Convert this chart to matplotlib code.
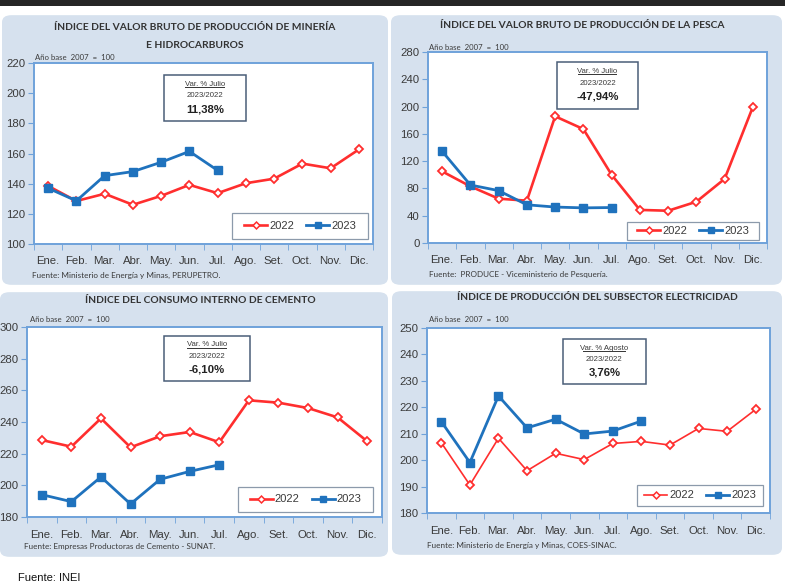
"""Cuatro indicadores sectoriales 2022-2023 (INEI)."""

import matplotlib
matplotlib.use("Agg")
import matplotlib.pyplot as plt
from matplotlib.patches import FancyBboxPatch, Rectangle
from matplotlib.lines import Line2D
from matplotlib.ticker import MultipleLocator, FixedLocator

W, H = 785, 584

meses = ["Ene.", "Feb.", "Mar.", "Abr.", "May.", "Jun.", "Jul.",
         "Ago.", "Set.", "Oct.", "Nov.", "Dic."]

# Minería e hidrocarburos
mineria_2022 = [138.5, 128.5, 133.3, 126.0, 131.9, 139.2, 133.7, 140.3, 143.3, 153.3, 150.2, 162.7]
mineria_2023 = [137.0, 128.6, 145.3, 148.0, 154.2, 161.4, 148.8]

# Pesca
pesca_2022 = [105.0, 83.0, 65.0, 62.0, 185.7, 167.0, 100.0, 48.5, 47.3, 60.5, 94.0, 199.5]
pesca_2023 = [134.5, 85.0, 76.8, 56.0, 52.7, 51.5, 52.0]

# Cemento
cemento_2022 = [228.6, 224.4, 242.3, 224.0, 231.0, 233.7, 227.2, 253.7, 252.2, 248.8, 242.9, 227.8]
cemento_2023 = [194.1, 189.7, 205.3, 188.2, 203.8, 208.8, 213.0]

# Electricidad
electricidad_2022 = [206.6, 190.6, 208.3, 196.0, 202.6, 200.2, 206.3, 207.1, 205.7, 212.0, 210.9, 219.2]
electricidad_2023 = [214.6, 199.1, 224.3, 212.2, 215.5, 209.9, 211.0, 214.8]

RED = "#FF2E2E"
BLUE = "#1F72BD"
PANEL_BG = "#D6E1EE"
FRAME = "#6FA2DA"
TXT = "#3A3A3A"

TITLE_FONT = ["Lato", "DejaVu Sans"]
TICK_FONT = ["Liberation Sans Narrow", "Liberation Sans"]


def fx(x):
    return x / W


def fy(y):
    return 1 - y / H


def rect(x0, y0, x1, y1):
    return [fx(x0), fy(y1), (x1 - x0) / W, (y1 - y0) / H]


fig = plt.figure(figsize=(W / 100, H / 100), dpi=100)
fig.patch.set_facecolor("white")

# barra superior oscura
fig.patches.append(Rectangle((0, fy(6)), 1, 6 / H, transform=fig.transFigure,
                             facecolor="#262626", edgecolor="none", zorder=-1))


def panel(bg, plot, titles, title_x, title_ys, base_xy, ylim, ystep,
          y22, y23, var_box, var_label, var_value, legend_box, source,
          source_xy, lw22=1.9):
    x0, y0, x1, y1 = bg
    fig.patches.append(FancyBboxPatch(
        (fx(x0) + 0.006, fy(y1) + 0.008), (x1 - x0) / W - 0.012, (y1 - y0) / H - 0.016,
        boxstyle="round,pad=0.006,rounding_size=0.012", transform=fig.transFigure,
        facecolor=PANEL_BG, edgecolor="none", zorder=-1))

    for t, ty in zip(titles, title_ys):
        fig.text(fx(title_x), fy(ty), t, ha="center", va="center", fontsize=7.4,
                 fontweight="bold", color="#333333", family=TITLE_FONT)
    fig.text(fx(base_xy[0]), fy(base_xy[1]), "Año base  2007  =  100", ha="left",
             va="center", fontsize=5.6, color=TXT, family=TITLE_FONT)

    ax = fig.add_axes(rect(*plot))
    ax.set_facecolor("white")
    x = list(range(12))
    ax.plot(x[:len(y22)], y22, color=RED, lw=lw22, marker="D", ms=4.2,
            mfc="white", mec=RED, mew=1.3, label="2022", zorder=3)
    ax.plot(x[:len(y23)], y23, color=BLUE, lw=2.0, marker="s", ms=5.5,
            mfc=BLUE, mec=BLUE, label="2023", zorder=4)
    ax.set_xlim(-0.5, 11.5)
    ax.set_ylim(*ylim)
    ax.yaxis.set_major_locator(MultipleLocator(ystep))
    ax.xaxis.set_major_locator(FixedLocator(x))
    ax.xaxis.set_minor_locator(FixedLocator([i - 0.5 for i in range(13)]))
    ax.set_xticklabels(meses)
    ax.tick_params(axis="x", which="major", length=0, pad=9, labelsize=8.2,
                   labelcolor=TXT)
    ax.tick_params(axis="x", which="minor", length=4, direction="out", color=FRAME)
    ax.tick_params(axis="y", length=4, direction="out", color=FRAME, labelsize=8.2,
                   labelcolor=TXT, pad=2)
    for lab in ax.get_xticklabels() + ax.get_yticklabels():
        lab.set_family(TICK_FONT)
    for s in ax.spines.values():
        s.set_color(FRAME)
        s.set_linewidth(1.4)

    # recuadro de variación
    bx0, by0, bx1, by1 = var_box
    fig.patches.append(Rectangle((fx(bx0), fy(by1)), (bx1 - bx0) / W, (by1 - by0) / H,
                                 transform=fig.transFigure, facecolor="white",
                                 edgecolor="#4A5E78", lw=1.1, zorder=5))
    cx = (bx0 + bx1) / 2
    h = by1 - by0
    fig.text(fx(cx), fy(by0 + h * 0.2), var_label, ha="center", va="center",
             fontsize=5.6, color=TXT, family=TICK_FONT, zorder=6)
    ul = len(var_label) * 3.3
    fig.patches.append(Rectangle((fx(cx - ul / 2), fy(by0 + h * 0.2 + 3.6)),
                                 ul / W, 0.6 / H,
                                 transform=fig.transFigure, facecolor=TXT,
                                 edgecolor="none", zorder=6))
    fig.text(fx(cx), fy(by0 + h * 0.45), "2023/2022", ha="center", va="center",
             fontsize=5.6, color=TXT, family=TICK_FONT, zorder=6)
    fig.text(fx(cx), fy(by0 + h * 0.74), var_value, ha="center", va="center",
             fontsize=8.2, fontweight="bold", color="#222222", family=TICK_FONT,
             zorder=6)

    # leyenda
    lx0, ly0, lx1, ly1 = legend_box
    fig.patches.append(Rectangle((fx(lx0), fy(ly1)), (lx1 - lx0) / W, (ly1 - ly0) / H,
                                 transform=fig.transFigure, facecolor="white",
                                 edgecolor="#8C9AAB", lw=0.9, zorder=5))
    handles = [
        Line2D([], [], color=RED, lw=lw22, marker="D", ms=3.5, mfc="white", mec=RED, mew=1.1),
        Line2D([], [], color=BLUE, lw=2.0, marker="s", ms=5, mfc=BLUE, mec=BLUE),
    ]
    leg = fig.legend(handles, ["2022", "2023"], loc="center", ncol=2, frameon=False,
                     bbox_to_anchor=(fx((lx0 + lx1) / 2), fy((ly0 + ly1) / 2)),
                     handlelength=2.1, handletextpad=0.15, columnspacing=1.1,
                     borderpad=0.2, prop={"family": TICK_FONT, "size": 8.0})
    leg.set_zorder(7)
    for t in leg.get_texts():
        t.set_color(TXT)

    fig.text(fx(source_xy[0]), fy(source_xy[1]), source, ha="left", va="center",
             fontsize=5.9, color=TXT, family=TITLE_FONT)


panel(bg=(2, 14, 388, 286), plot=(34, 63, 373, 244),
      titles=["ÍNDICE DEL VALOR BRUTO DE PRODUCCIÓN DE MINERÍA", "E HIDROCARBUROS"],
      title_x=195, title_ys=[28, 46], base_xy=(35, 57), ylim=(100, 220), ystep=20,
      y22=mineria_2022, y23=mineria_2023, var_box=(164, 75, 246, 121),
      var_label="Var. % Julio", var_value="11,38%", legend_box=(232, 213, 368, 239),
      source="Fuente: Ministerio de Energía y Minas, PERUPETRO.", source_xy=(32, 275))

panel(bg=(391, 14, 782, 286), plot=(428, 52, 767, 243),
      titles=["ÍNDICE DEL VALOR BRUTO DE PRODUCCIÓN DE LA PESCA"],
      title_x=582, title_ys=[26], base_xy=(429, 47), ylim=(0, 280), ystep=40,
      y22=pesca_2022, y23=pesca_2023, var_box=(557, 62, 638, 109),
      var_label="Var. % Julio", var_value="-47,94%", legend_box=(627, 222, 759, 240),
      source="Fuente:  PRODUCE - Viceministerio de Pesquería.", source_xy=(429, 274))

panel(bg=(0, 291, 388, 558), plot=(27, 327, 382, 517),
      titles=["ÍNDICE DEL CONSUMO INTERNO DE CEMENTO"],
      title_x=200, title_ys=[300], base_xy=(30, 320), ylim=(180, 300), ystep=20,
      y22=cemento_2022, y23=cemento_2023, var_box=(164, 336, 250, 381),
      var_label="Var. % Julio", var_value="-6,10%", legend_box=(238, 487, 373, 512),
      source="Fuente: Empresas Productoras de Cemento - SUNAT.", source_xy=(24, 547))

panel(bg=(392, 290, 782, 556), plot=(427, 328, 770, 513),
      titles=["ÍNDICE DE PRODUCCIÓN DEL SUBSECTOR ELECTRICIDAD"],
      title_x=597, title_ys=[298], base_xy=(429, 319), ylim=(180, 250), ystep=10,
      y22=electricidad_2022, y23=electricidad_2023, var_box=(563, 339, 646, 384),
      var_label="Var. % Agosto", var_value="3,76%", legend_box=(637, 485, 763, 506),
      source="Fuente: Ministerio de Energía y Minas, COES-SINAC.", source_xy=(427, 545),
      lw22=1.2)

fig.text(fx(18), fy(573), "Fuente: INEI", ha="left", va="top", fontsize=8,
         color="#111111", family=["Liberation Sans", "DejaVu Sans"])

fig.savefig("out.png", dpi=100)
